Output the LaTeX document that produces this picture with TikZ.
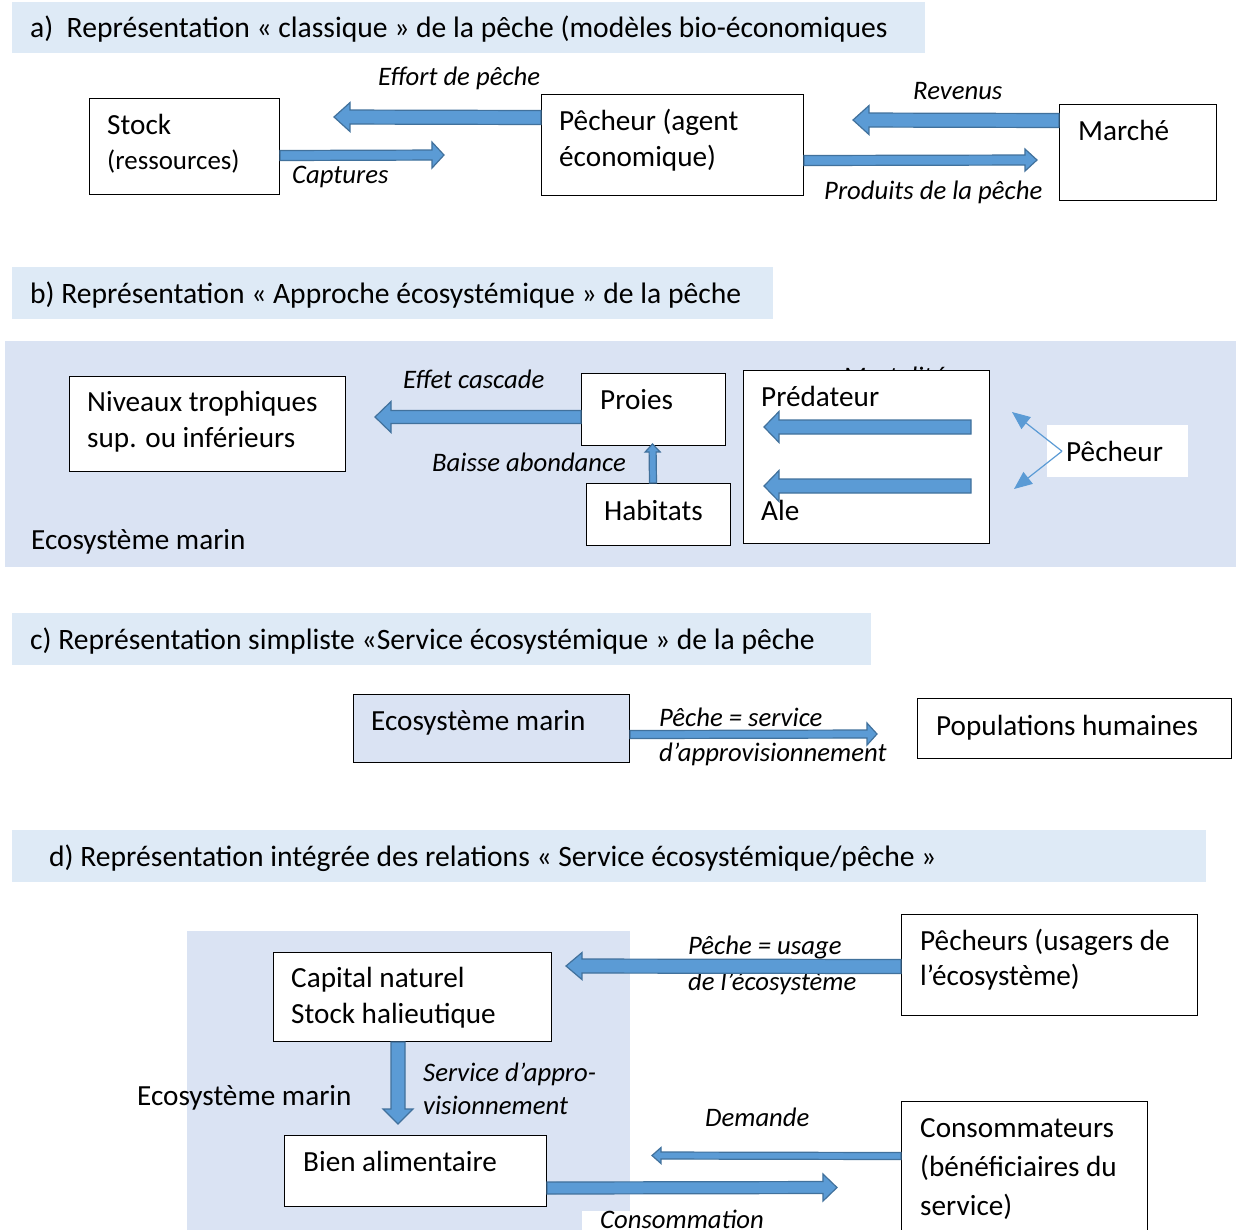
\documentclass[tikz,border=0pt]{standalone}
\usepackage{fontspec}
\setmainfont{Carlito}
\usetikzlibrary{calc,arrows.meta}
\definecolor{hdr}{HTML}{DEEAF6}
\definecolor{eco}{HTML}{DAE3F3}
\definecolor{afill}{HTML}{5B9BD5}
\definecolor{aline}{HTML}{41719C}
\tikzset{
 box/.style={draw=black, line width=1pt, fill=white, inner sep=0pt, anchor=north west},
 txt/.style={anchor=base west, inner sep=0pt, font=\fontsize{29.2}{35}\selectfont},
 htx/.style={anchor=base west, inner sep=0pt, font=\fontsize{29.6}{35}\selectfont},
 itx/.style={anchor=base west, inner sep=0pt, font=\fontsize{26.7}{33}\selectfont\itshape},
 barr/.style={fill=afill, draw=aline, line width=1.2pt, line join=miter},
 thinarr/.style={draw=afill, line width=1.2pt, -{Triangle[length=18pt,width=15pt]}}
}
% #1 tail, #2 tip, #3 shaft half width, #4 head half width, #5 head length
\newcommand\blockarrow[5]{%
  \path (#1) coordinate (bat) (#2) coordinate (bap);
  \path ($(bap)!#5!(bat)$) coordinate (bac);
  \filldraw[barr] ($(bat)!#3!90:(bap)$) -- ($(bac)!#3!90:(bap)$) -- ($(bac)!#4!90:(bap)$)
     -- (bap) -- ($(bac)!#4!-90:(bap)$) -- ($(bac)!#3!-90:(bap)$) -- ($(bat)!#3!-90:(bap)$) -- cycle;
}
\begin{document}
\begin{tikzpicture}[x=1pt,y=-1pt]
\useasboundingbox[fill=white] (0,0) rectangle (1245,1229);
% ---------- bands
\fill[hdr] (12,2) rectangle (925,53);
\fill[hdr] (12,267) rectangle (773,319);
\fill[eco] (5,341) rectangle (1236,567);
\fill[hdr] (12,613) rectangle (871,665);
\fill[hdr] (12,830) rectangle (1206,882);
\fill[eco] (187,931) rectangle (630,1232);
% ---------- headers
\node[htx] (ha) at (30,37) {a)\ \ Représentation « classique » de la pêche (modèles bio-économiques};
\node[htx] (hb) at (30,303) {b) Représentation « Approche écosystémique » de la pêche};
\node[htx] (hc) at (30,649) {c) Représentation simpliste «Service écosystémique » de la pêche};
\node[htx] (hd) at (49,866) {d) Représentation intégrée des relations « Service écosystémique/pêche »};
% ================= a
\node[box, minimum width=190pt, minimum height=96pt] (stock) at (89,98) {};
\node[box, minimum width=262pt, minimum height=101pt] (pech) at (541,94) {};
\node[box, minimum width=157pt, minimum height=96pt] (marche) at (1059,104) {};
\node[txt] (stock1) at (107,134) {Stock};
\node[txt, font=\fontsize{26.9}{35}\selectfont] (stock2) at (107,169) {(ressources)};
\node[txt] (pech1) at (559,130) {Pêcheur (agent};
\node[txt] (pech2) at (559,166) {économique)};
\node[txt] (marche1) at (1078,140) {Marché};
\coordinate (effT) at (334,117);
\coordinate (capT) at (444,155);
\coordinate (revT) at (853,120);
\coordinate (proT) at (1037,160);
\blockarrow{$(pech.west)+(0,-27.5)$}{effT}{7pt}{14.5pt}{16pt}
\blockarrow{$(stock.east)+(0,9)$}{capT}{5pt}{13pt}{12pt}
\blockarrow{$(marche.west)+(0,-32)$}{revT}{7pt}{14.5pt}{16pt}
\blockarrow{$(pech.east)+(0,15.5)$}{proT}{5pt}{11pt}{12pt}
\node[itx] (leff) at (378,85) {Effort de pêche};
\node[itx] (lcap) at (292,183) {Captures};
\node[itx] (lrev) at (913,99) {Revenus};
\node[itx] (lpro) at (824,199) {Produits de la pêche};
% ================= b
\node[itx] (mort) at (843,385) {Mortalité};
\node[box, minimum width=276pt, minimum height=95pt] (niv) at (69,376) {};
\node[box, minimum width=144pt, minimum height=72pt] (proies) at (581,373) {};
\node[box, minimum width=144pt, minimum height=62pt] (hab) at (586,483) {};
\node[box, minimum width=246pt, minimum height=173pt] (pred) at (743,370) {};
\node[fill=white, inner sep=0pt, anchor=north west, minimum width=141pt, minimum height=52pt] (pcb) at (1047,425) {};
\node[txt] (niv1) at (87,411) {Niveaux trophiques};
\node[txt] (niv2) at (87,447) {sup. ou inférieurs};
\node[txt] (proies1) at (600,409) {Proies};
\node[txt] (hab1) at (604,520) {Habitats};
\node[txt] (pred1) at (761,406) {Prédateur};
\node[txt] (pred2) at (761,520) {Ale};
\node[txt] (pcb1) at (1066,461) {Pêcheur};
\node[txt] (ecob) at (31,549) {Ecosystème marin};
\coordinate (casT) at (375,417);
\blockarrow{$(proies.west)+(0,7.5)$}{casT}{6.5pt}{15.5pt}{16pt}
\coordinate (habT) at (652.5,444);
\blockarrow{$(hab.north)+(-5.5,0)$}{habT}{3.5pt}{7.5pt}{8pt}
\coordinate (p1S) at (971,427);
\coordinate (p1T) at (764,427);
\coordinate (p2S) at (971,486);
\coordinate (p2T) at (764,486);
\blockarrow{p1S}{p1T}{7pt}{15.5pt}{15pt}
\blockarrow{p2S}{p2T}{7pt}{15.5pt}{15pt}
\node[itx] (lcas) at (403,388) {Effet cascade};
\node[itx] (lbai) at (432,471) {Baisse abondance};
\coordinate (pcS) at ([xshift=15pt]pcb.west);
\coordinate (pcT1) at (1012,412);
\coordinate (pcT2) at (1014,489);
\draw[thinarr] (pcS) -- (pcT1);
\draw[thinarr] (pcS) -- (pcT2);
% ================= c
\node[box, fill=eco, minimum width=276pt, minimum height=68pt] (ecoc) at (353,694) {};
\node[box, minimum width=314pt, minimum height=60pt] (pop) at (917,698) {};
\node[txt] (ecoc1) at (371,730) {Ecosystème marin};
\node[txt] (pop1) at (936,735) {Populations humaines};
\node[itx] (lsv1) at (659,726) {Pêche = service};
\node[itx] (lsv2) at (659,761) {d’approvisionnement};
\coordinate (svT) at (877,734);
\blockarrow{$(ecoc.east)+(0,6)$}{svT}{4pt}{11pt}{10pt}
% ================= d
\node[box, minimum width=278pt, minimum height=89pt] (cap) at (273,952) {};
\node[box, minimum width=262pt, minimum height=71pt] (bien) at (284,1135) {};
\node[box, minimum width=296pt, minimum height=101pt] (pchs) at (901,914) {};
\node[box, minimum width=246pt, minimum height=132pt] (cons) at (901,1101) {};
\node[txt] (cap1) at (291,987) {Capital naturel};
\node[txt] (cap2) at (291,1023) {Stock halieutique};
\node[txt] (bien1) at (303,1171) {Bien alimentaire};
\node[txt] (pchs1) at (920,950) {Pêcheurs (usagers de};
\node[txt] (pchs2) at (920,985) {l’écosystème)};
\node[txt] (cons1) at (920,1137) {Consommateurs};
\node[txt] (cons2) at (920,1176) {(bénéficiaires du};
\node[txt] (cons3) at (920,1215) {service)};
\node[txt] (ecod) at (137,1105) {Ecosystème marin};
\node[itx] (lus1) at (688,954) {Pêche = usage};
\node[itx] (lus2) at (688,990) {de l’écosystème};
\coordinate (usT) at (566,966);
\blockarrow{$(pchs.west)+(0,1.5)$}{usT}{7pt}{13.5pt}{16pt}
\coordinate (svdT) at (398,1124);
\blockarrow{cap.south -| svdT}{svdT}{7pt}{15pt}{15pt}
\node[itx] (lsd1) at (423,1081) {Service d’appro-};
\node[itx] (lsd2) at (423,1114) {visionnement};
\node[itx] (ldem) at (705,1126) {Demande};
\coordinate (demT) at (652,1155.5);
\blockarrow{$(cons.west)+(0,-11.5)$}{demT}{3.5pt}{8pt}{9pt}
\coordinate (conT) at (837,1187.5);
\blockarrow{$(bien.east)+(0,17)$}{conT}{6pt}{13.5pt}{14pt}
\node[itx, fill=white, inner xsep=18pt, inner ysep=0pt, text height=17pt, text depth=10pt] (lcon) at (582,1228) {Consommation};
\end{tikzpicture}
\end{document}
